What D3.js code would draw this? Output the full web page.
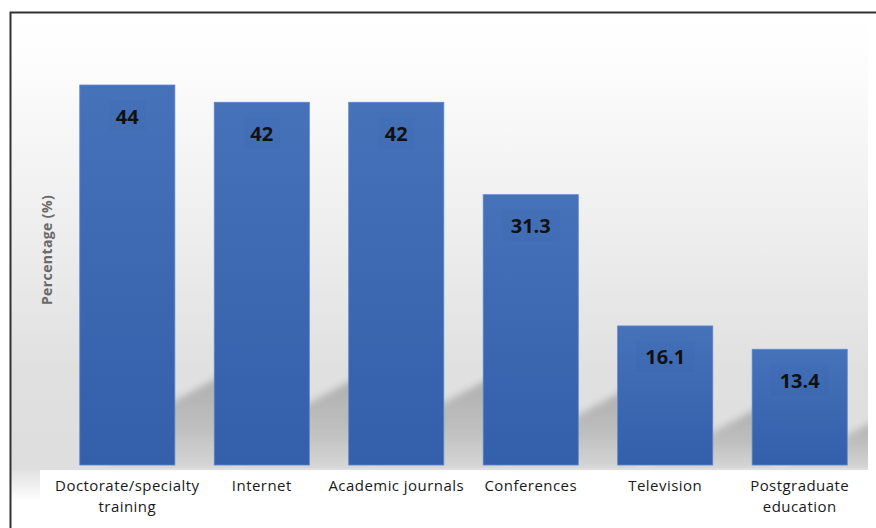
<!DOCTYPE html>
<html><head><meta charset="utf-8">
<script src="https://cdn.jsdelivr.net/npm/d3@7"></script>
<style>html,body{margin:0;padding:0;background:#fff;}svg{display:block;}</style>
</head><body>
<svg id="c" width="876" height="528"></svg>
<script>
const categories = [["Doctorate/specialty","training"],["Internet"],["Academic journals"],["Conferences"],["Television"],["Postgraduate","education"]];
const values = [44, 42, 42, 31.3, 16.1, 13.4];
const valueLabels = ["44","42","42","31.3","16.1","13.4"];
const yTitle = "Percentage (%)";

const svg = d3.select("#c");
const W = 876, H = 528;
const base = 465;
const x = d3.scaleBand().domain(d3.range(values.length)).range([60, 867]).paddingInner(0.293).paddingOuter(0.147);
const y = d3.scaleLinear().domain([0, 50]).range([base, base - 50 * 8.636]);

const defs = svg.append("defs");
const bg = defs.append("linearGradient").attr("id","bg").attr("x1",0).attr("y1",0).attr("x2",0).attr("y2",1);
[["0%","#ffffff"],["10%","#fdfdfd"],["50%","#ededed"],["78%","#e0e0e0"],["100%","#dedede"]].forEach(s=>bg.append("stop").attr("offset",s[0]).attr("stop-color",s[1]));
const bar = defs.append("linearGradient").attr("id","bar").attr("x1",0).attr("y1",0).attr("x2",0).attr("y2",1);
bar.append("stop").attr("offset","0%").attr("stop-color","#4672ba");
bar.append("stop").attr("offset","100%").attr("stop-color","#335fab");
const shg = defs.append("linearGradient").attr("id","shg").attr("x1",0).attr("y1",0).attr("x2",0).attr("y2",1);
shg.append("stop").attr("offset","0%").attr("stop-color","#acacac");
shg.append("stop").attr("offset","55%").attr("stop-color","#bebebe");
shg.append("stop").attr("offset","100%").attr("stop-color","#d8d8d8");
const blur = defs.append("filter").attr("id","blur").attr("x","-20%").attr("y","-30%").attr("width","140%").attr("height","160%");
blur.append("feGaussianBlur").attr("stdDeviation", 3.5);
const lgrad = defs.append("linearGradient").attr("id","lg").attr("x1",0).attr("y1",0).attr("x2",0).attr("y2",1);
lgrad.append("stop").attr("offset","0%").attr("stop-color","#e2e2e2");
lgrad.append("stop").attr("offset","100%").attr("stop-color","#ffffff");
defs.append("clipPath").attr("id","plotclip").append("rect").attr("x",12).attr("y",14).attr("width",856).attr("height",base-14+3);

// background
svg.append("rect").attr("x",11).attr("y",13).attr("width",857).attr("height",base-13+5).attr("fill","url(#bg)");
svg.append("rect").attr("x",11).attr("y",base+5).attr("width",29).attr("height",32).attr("fill","url(#lg)");

// shadows
const sh = svg.append("g").attr("clip-path","url(#plotclip)");
values.forEach((v,i)=>{
  const x0 = x(i), x1 = x(i) + x.bandwidth();
  const hgt = base - y(v);
  const h0 = 15 + 0.13 * hgt;
  const dx = x.step() - x.bandwidth() + 6;
  const pts = [[x0+20, base+6],[x1-10, base-h0+8],[x1, base-h0],[x1+dx, base-h0-24],[x1+dx+14, base-h0-18],[x1+dx+14, base+6]];
  sh.append("path").attr("d", d3.line()(pts)).attr("fill","url(#shg)").attr("opacity",0.95).attr("filter","url(#blur)");
});
svg.append("rect").attr("x",40).attr("y",base+5).attr("width",828).attr("height",H-base).attr("fill","#fff");

// bars
svg.append("g").selectAll("rect").data(values).join("rect")
  .attr("x",(d,i)=>x(i)).attr("y",d=>y(d)).attr("width",x.bandwidth()).attr("height",d=>base-y(d))
  .attr("fill","url(#bar)").attr("stroke","#5a86cc").attr("stroke-width",0.8);

// value labels
const vl = svg.append("g");
values.forEach((v,i)=>{
  const cx = x(i)+x.bandwidth()/2;
  const cy = y(v)+31;
  const w = valueLabels[i].length*11+14;
  vl.append("rect").attr("x",cx-w/2).attr("y",cy-16).attr("width",w).attr("height",31).attr("fill","#2a4f96").attr("opacity",0.07);
  vl.append("text").attr("x",cx).attr("y",cy).attr("text-anchor","middle").attr("dominant-baseline","central")
    .attr("font-family","'Open Sans', sans-serif").attr("font-weight",700).attr("font-size",20).attr("fill","#111")
    .text(valueLabels[i]);
});

// category labels
const cl = svg.append("g");
categories.forEach((lines,i)=>{
  const t = cl.append("text").attr("x",x(i)+x.bandwidth()/2).attr("y",491).attr("text-anchor","middle")
    .attr("font-family","'Open Sans', sans-serif").attr("font-size",15).attr("letter-spacing",0.45).attr("fill","#1a1a1a");
  lines.forEach((ln,j)=>t.append("tspan").attr("x",x(i)+x.bandwidth()/2).attr("dy",j?21:0).text(ln));
});

// y title
svg.append("text").attr("transform","translate(52,250) rotate(-90)").attr("text-anchor","middle")
  .attr("font-family","'Open Sans', sans-serif").attr("font-weight",700).attr("font-size",14).attr("letter-spacing",0.4).attr("fill","#6a6a6a").text(yTitle);

// frame
svg.append("path").attr("d","M10.5,528 L10.5,12.5 L876,12.5").attr("fill","none").attr("stroke","#333").attr("stroke-width",2);
</script>
</body></html>
